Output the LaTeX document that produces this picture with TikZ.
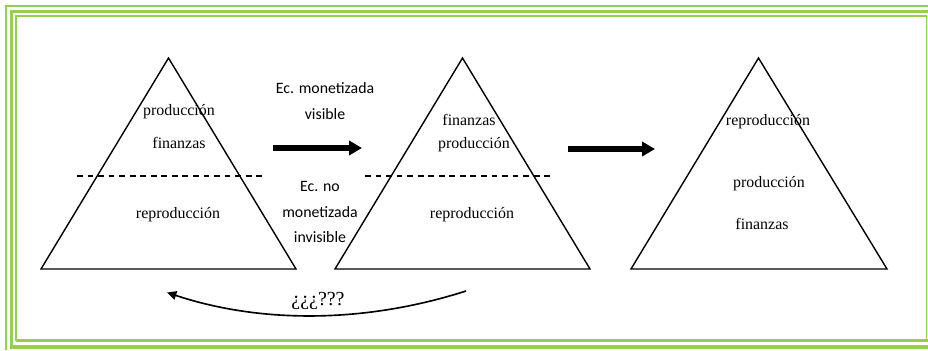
\documentclass[tikz,border=0pt]{standalone}
\usepackage{fontspec}
\setmainfont{Liberation Serif}
\newfontfamily\labelfont{Carlito}
\usetikzlibrary{arrows.meta}
\definecolor{frame green}{HTML}{92D050}
\tikzset{
  layer label/.style={
    inner sep=1pt,
    font=\fontsize{13.6}{16}\selectfont,
  },
  side label/.style={
    align=center,
    inner sep=1pt,
    font=\labelfont\fontsize{13.5}{21.5}\selectfont,
  },
  pyramid/.style={
    line width=1.2pt,
    line join=miter,
  },
  split line/.style={
    line width=1.2pt,
    dash pattern=on 5pt off 4pt,
  },
  big arrow/.style={
    line width=4.6pt,
    -{Triangle[length=11pt,width=12pt]},
  },
  frame line/.style={
    draw=frame green,
    line cap=butt,
  },
}

\begin{document}
\begin{tikzpicture}[x=0.03cm, y=-0.03cm]
        \useasboundingbox (0,0) rectangle (928,350);

        \draw[frame line, line width=2.4pt] (6,350) -- (6,6) -- (928,6);
        \draw[frame line, line width=2.8pt] (11.5,349) -- (11.5,11.5) -- (928,11.5);
        \draw[frame line, line width=3.6pt] (10,347) -- (928,347);
        \draw[frame line, line width=1.5pt] (16,340.5) -- (16,16) -- (926.5,16) -- (926.5,340.5);
        \draw[frame line, line width=2.8pt] (15.5,340.5) -- (928,340.5);

        \coordinate (t1a) at (168.5,58);
        \coordinate (t1l) at (41,269);
        \coordinate (t1r) at (296,269);
        \coordinate (t2a) at (462.5,58);
        \coordinate (t2l) at (335,269);
        \coordinate (t2r) at (590,269);
        \coordinate (t3a) at (758.5,58);
        \coordinate (t3l) at (631,269);
        \coordinate (t3r) at (887,269);

        \coordinate (d1l) at (77,176);
        \coordinate (d1r) at (263,176);
        \coordinate (d2l) at (365,176);
        \coordinate (d2r) at (552,176);

        \coordinate (a1s) at (273,148);
        \coordinate (a1e) at (362,148);
        \coordinate (a2s) at (568,149);
        \coordinate (a2e) at (655,149);
        \coordinate (bs) at (466,291);
        \coordinate (be) at (167,292.5);

        \draw[pyramid] (t1a) -- (t1l) -- (t1r) -- cycle;
        \draw[pyramid] (t2a) -- (t2l) -- (t2r) -- cycle;
        \draw[pyramid] (t3a) -- (t3l) -- (t3r) -- cycle;

        \draw[split line] (d1l) -- (d1r);
        \draw[split line] (d2l) -- (d2r);

        \node[layer label] (p1) at (179,112) {producción};
        \node[layer label] (f1) at (179,143) {finanzas};
        \node[layer label] (r1) at (178,215) {reproducción};
        \node[layer label] (f2) at (469,120) {finanzas};
        \node[layer label] (p2) at (474,145) {producción};
        \node[layer label] (r2) at (472,215) {reproducción};
        \node[layer label] (r3) at (768,122) {reproducción};
        \node[layer label] (p3) at (769,184) {producción};
        \node[layer label] (f3) at (762,224) {finanzas};

        \node[side label] (vis) at (325,101) {Ec. monetizada\\visible};
        \node[side label] (invis) at (320,212) {Ec. no\\monetizada\\invisible};

        \draw[big arrow] (a1s) -- (a1e);
        \draw[big arrow] (a2s) -- (a2e);

        \draw[line width=1.4pt, -{Triangle[length=8pt,width=7.5pt]}]
        (bs) .. controls (366,323) and (262,324) .. (be);
        \node[font=\fontsize{17}{20}\selectfont, inner sep=1pt] (ask) at (318,301) {¿¿¿???};
      \end{tikzpicture}
\end{document}
